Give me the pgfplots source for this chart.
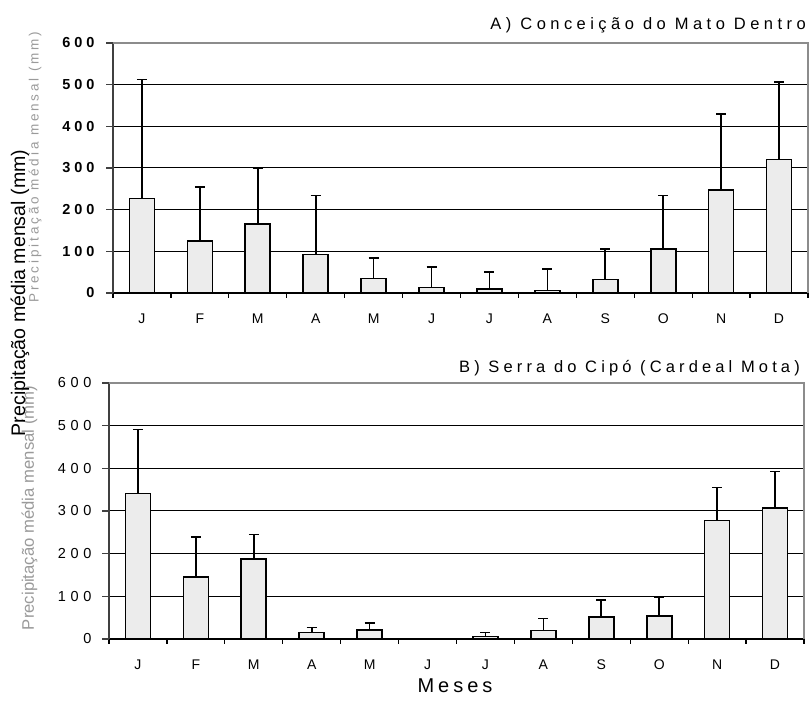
\documentclass[border=0pt]{standalone}
\usepackage{fontspec}
\setmainfont{Liberation Sans}
\newfontfamily\lsA[LetterSpace=27]{Liberation Sans}
\newfontfamily\lsB[LetterSpace=32]{Liberation Sans}
\newfontfamily\lsT[LetterSpace=27]{Liberation Sans}
\newfontfamily\lsU[LetterSpace=25]{Liberation Sans}
\newfontfamily\lsM[LetterSpace=20]{Liberation Sans}
\newfontfamily\lsG[LetterSpace=21]{Liberation Sans}
\usepackage{pgfplots}
\pgfplotsset{compat=1.18}
\definecolor{barfill}{HTML}{ECECEC}
\definecolor{labgray}{HTML}{9A9A9A}

\pgfplotsset{
  chuva/.style={
    scale only axis, width=695pt,
    xmin=-0.5, xmax=11.5, ymin=0, ymax=600,
    ytick={0,100,...,600},
    xtick={0,...,11},
    xticklabels={J,F,M,A,M,J,J,A,S,O,N,D},
    major x tick style={draw=none},
    minor xtick={-0.5,0.5,1.5,2.5,3.5,4.5,5.5,6.5,7.5,8.5,9.5,10.5,11.5},
    minor tick length=5pt, major tick length=7pt,
    tick align=outside, xtick pos=left, ytick pos=left,
    axis x line*=bottom, axis y line*=left,
    x axis line style={-, black, line width=1.5pt},
    y axis line style={-, black!75, line width=1.8pt},
    minor x tick style={black, line width=1.2pt},
    major y tick style={black!75, line width=1.2pt},
    ymajorgrids, grid style={black, line width=1pt},
    /pgf/number format/assume math mode=true,
    xticklabel style={font=\fontsize{14}{14}\selectfont, yshift=-10.5pt},
    clip=false,
  },
  barras/.style={
    ybar, bar width=25pt, fill=barfill, draw=black, line width=1.6pt,
    error bars/.cd, y dir=plus, y explicit,
    error bar style={line width=1.6pt, black},
    error mark options={rotate=90, mark size=5pt, line width=1.6pt, black},
  },
}

\begin{document}
\begin{tikzpicture}[x=1pt,y=1pt]
\useasboundingbox (0,0) rectangle (809,704);

% A) Conceicao do Mato Dentro
\begin{axis}[chuva, at={(113pt,411pt)}, anchor=south west, height=250pt,
  yticklabel style={font=\lsA\bfseries\fontsize{14.5}{14.5}\selectfont, xshift=-8pt}]
\addplot[barras] coordinates {
  (0,227) +- (0,285)
  (1,125) +- (0,130)
  (2,166) +- (0,133)
  (3,92)  +- (0,142)
  (4,35)  +- (0,49)
  (5,13)  +- (0,50)
  (6,10)  +- (0,40)
  (7,6)   +- (0,52)
  (8,32)  +- (0,74)
  (9,106) +- (0,128)
  (10,247) +- (0,182)
  (11,320) +- (0,187)
};
\draw[black!45, line width=1.3pt] (rel axis cs:0,1) -- (rel axis cs:1,1) -- (rel axis cs:1,0);
\end{axis}

% B) Serra do Cipo
\begin{axis}[chuva, at={(109pt,65pt)}, anchor=south west, height=256pt,
  yticklabel style={font=\lsB\fontsize{14.5}{14.5}\selectfont, xshift=-7pt}]
\addplot[barras] coordinates {
  (0,341) +- (0,150)
  (1,145) +- (0,94)
  (2,187) +- (0,58)
  (3,15)  +- (0,12)
  (4,21)  +- (0,17)
  (5,0.5) +- (0,0)
  (6,5.5) +- (0,9.5)
  (7,20)  +- (0,28)
  (8,51)  +- (0,40)
  (9,54)  +- (0,44)
  (10,278) +- (0,77)
  (11,307) +- (0,86)
};
\draw[black!45, line width=1.3pt] (rel axis cs:0,1) -- (rel axis cs:1,1) -- (rel axis cs:1,0);
\end{axis}

\node[anchor=base east, inner sep=0pt, font=\lsT\fontsize{16.5}{16.5}\selectfont] at (806,674) {A) Conceição do Mato Dentro};
\node[anchor=base east, inner sep=0pt, font=\lsU\fontsize{16.5}{16.5}\selectfont] at (800,331) {B) Serra do Cipó (Cardeal Mota)};
\node[anchor=base, inner sep=0pt, font=\lsM\fontsize{20}{20}\selectfont] at (455,11) {Meses};
\node[rotate=90, inner sep=0pt, text=labgray, font=\lsG\fontsize{13.5}{13.5}\selectfont] at (35,537) {Precipitação média mensal (mm)};
\node[rotate=90, inner sep=0pt, text=labgray, font=\fontsize{16.7}{16.7}\selectfont] at (29.5,196) {Precipitação média mensal (mm)};
\node[rotate=90, inner sep=0pt, font=\fontsize{19.6}{19.6}\selectfont] at (20,411) {Precipitação média mensal (mm)};
\end{tikzpicture}
\end{document}
